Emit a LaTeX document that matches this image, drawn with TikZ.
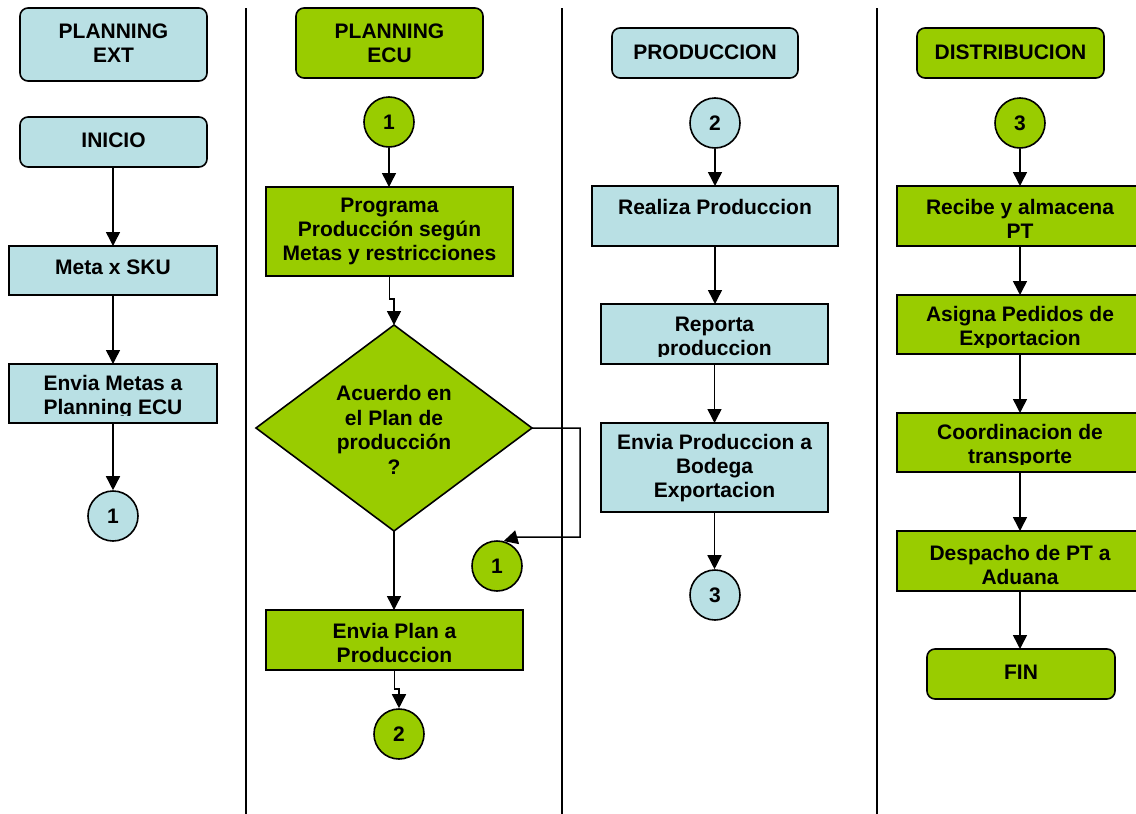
\documentclass[tikz,border=0pt]{standalone}
\usepackage{fontspec}
\setmainfont{Liberation Sans}
\usetikzlibrary{arrows.meta,shapes.geometric}
\definecolor{lblue}{HTML}{B9E0E4}
\definecolor{lgreen}{HTML}{99CC00}
\begin{document}
\begin{tikzpicture}[x=1pt,y=-1pt,
  sz/.style 2 args={minimum width=#1pt,minimum height=#2pt,inner sep=0pt,outer sep=0pt},
  boxb/.style={draw=black,line width=1.6pt,fill=lblue},
  boxg/.style={draw=black,line width=1.6pt,fill=lgreen},
  rnd/.style={rounded corners=8pt},
  circb/.style={circle,draw=black,line width=1.6pt,fill=lblue,minimum size=50pt,inner sep=0pt,font=\fontsize{21}{24}\selectfont\bfseries},
  circg/.style={circb,fill=lgreen},
  txt/.style={font=\fontsize{21}{24}\selectfont\bfseries,align=center,inner sep=0pt},
  arr/.style={draw=black,line width=1.5pt,-{Triangle[width=14pt,length=14pt]}},
  sep/.style={draw=black,line width=1.6pt}
]
\useasboundingbox (0,0) rectangle (1136,814);
\fill[white] (0,0) rectangle (1136,814);

% separators
\coordinate (s1t) at (246,8); \coordinate (s1b) at (246,814);
\coordinate (s2t) at (562,8); \coordinate (s2b) at (562,814);
\coordinate (s3t) at (877,8); \coordinate (s3b) at (877,814);
\draw[sep] (s1t) -- (s1b);
\draw[sep] (s2t) -- (s2b);
\draw[sep] (s3t) -- (s3b);

% ---------- column 1 ----------
\node[boxb,rnd,sz={187}{73}] (pext) at (113.5,44.5) {};
\node[txt] (pext-t) at (113.5,43) {PLANNING\\EXT};
\node[boxb,rnd,sz={187}{50}] (inicio) at (113.5,142) {};
\node[txt] (inicio-t) at (113.5,140) {INICIO};
\node[boxb,sz={208}{49}] (meta) at (113,270.5) {};
\node[txt] (meta-t) at (113,267) {Meta x SKU};
\node[boxb,sz={208}{59}] (envm) at (113,393.5) {};
\begin{scope}
  \clip (9,364) rectangle (217,415);
  \node[txt] (envm-t) at (113,397) {Envia Metas a\\Planning ECU};
\end{scope}
\node[circb] (c1a) at (113,516) {1};

\draw[arr] (inicio.south -| meta.north) -- (meta.north);
\draw[arr] (meta.south) -- (envm.north);
\draw[arr] (envm.south) -- (c1a.north);

% ---------- column 2 ----------
\node[boxg,rnd,sz={187}{70}] (pecu) at (389.5,43) {};
\node[txt] (pecu-t) at (389.5,43) {PLANNING\\ECU};
\node[circg] (c1b) at (389,122) {1};
\node[boxg,sz={247}{89}] (prog) at (389.5,231.5) {};
\node[txt] (prog-t) at (389.5,231) {Programa\\Producción según\\Metas y restricciones};
\node[diamond,boxg,sz={276}{206}] (dia) at (394,428) {};
\node[txt,font=\fontsize{21}{24.5}\selectfont\bfseries] (dia-t) at (394,430) {Acuerdo en\\el Plan de\\producción\\?};
\node[circg] (c1c) at (497,566) {1};
\node[boxg,sz={257}{60}] (envp) at (394.5,640) {};
\node[txt] (envp-t) at (394.5,643) {Envia Plan a\\Produccion};
\node[circg] (c2a) at (399,734) {2};

\draw[arr] (c1b.south) -- (c1b.south |- prog.north);
\draw[arr] (prog.south) -- ++(0,23) -| (dia.north);
\coordinate (k1) at (580,428);
\coordinate (k2) at (580,537);
\coordinate (k3) at (518,537);
\draw[arr] (dia.east) -- (k1) -- (k2) -- (k3) -- (c1c.75);
\draw[arr] (dia.south) -- (dia.south |- envp.north);
\draw[arr] (envp.south) -- ++(0,19) -| (c2a.north);

% ---------- column 3 ----------
\node[boxb,rnd,sz={186}{50}] (prod) at (705,53) {};
\node[txt] (prod-t) at (705,52) {PRODUCCION};
\node[circb] (c2b) at (715,123) {2};
\node[boxb,sz={246}{60}] (real) at (715,216) {};
\node[txt] (real-t) at (715,207) {Realiza Produccion};
\node[boxb,sz={227}{60}] (repo) at (714.5,334) {};
\begin{scope}
  \clip (601,304) rectangle (828,356);
  \node[txt] (repo-t) at (714.5,338) {Reporta\\produccion};
\end{scope}
\node[boxb,sz={227}{89}] (envpr) at (714.5,467.5) {};
\node[txt] (envpr-t) at (714.5,468) {Envia Produccion a\\Bodega\\Exportacion};
\node[circb] (c3a) at (715,595) {3};

\draw[arr] (c2b.south) -- (c2b.south |- real.north);
\draw[arr] (real.south) -- (real.south |- repo.north);
\draw[arr] (repo.south) -- (repo.south |- envpr.north);
\draw[arr] (envpr.south) -- (envpr.south |- c3a.north);

% ---------- column 4 ----------
\node[boxg,rnd,sz={187}{50}] (dist) at (1010.5,53) {};
\node[txt] (dist-t) at (1010.5,52) {DISTRIBUCION};
\node[circg] (c3b) at (1020,123) {3};
\node[boxg,sz={246}{60}] (reci) at (1020,216) {};
\node[txt] (reci-t) at (1020,219) {Recibe y almacena\\PT};
\node[boxg,sz={246}{59}] (asig) at (1020,324.5) {};
\begin{scope}
  \clip (897,295) rectangle (1143,347);
  \node[txt] (asig-t) at (1020,328) {Asigna Pedidos de\\Exportacion};
\end{scope}
\node[boxg,sz={246}{59}] (coor) at (1020,442.5) {};
\begin{scope}
  \clip (897,413) rectangle (1143,464);
  \node[txt] (coor-t) at (1020,446) {Coordinacion de\\transporte};
\end{scope}
\node[boxg,sz={246}{60}] (desp) at (1020,561) {};
\node[txt] (desp-t) at (1020,565) {Despacho de PT a\\Aduana};
\node[boxg,rnd,sz={188}{50}] (fin) at (1021,674) {};
\node[txt] (fin-t) at (1021,672) {FIN};

\draw[arr] (c3b.south) -- (c3b.south |- reci.north);
\draw[arr] (reci.south) -- (asig.north);
\draw[arr] (asig.south) -- (coor.north);
\draw[arr] (coor.south) -- (desp.north);
\draw[arr] (desp.south) -- (desp.south |- fin.north);
\end{tikzpicture}
\end{document}
